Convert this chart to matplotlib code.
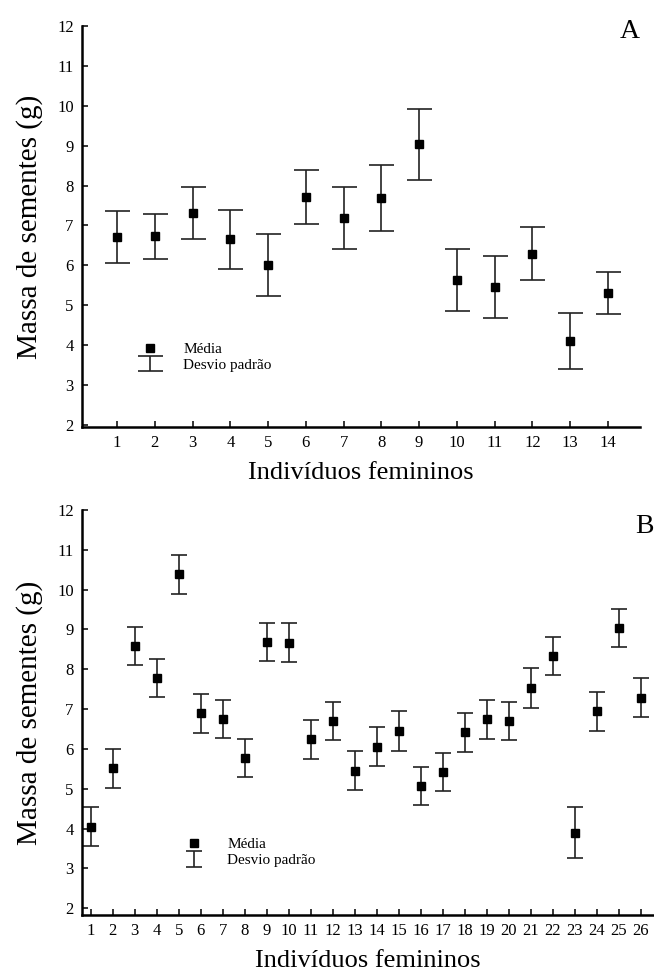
import numpy as np
import matplotlib
matplotlib.use('Agg')
import matplotlib.pyplot as plt
from matplotlib.lines import Line2D

plt.rcParams['font.family'] = ['Liberation Serif', 'DejaVu Serif']

# Panel A - 14 individuals
ind_a = np.arange(1, 15)
mean_a = [6.70, 6.73, 7.31, 6.65, 6.01, 7.72, 7.18, 7.68, 9.03, 5.64, 5.45, 6.29, 4.10, 5.30]
sd_a = [0.65, 0.56, 0.65, 0.73, 0.78, 0.68, 0.78, 0.83, 0.88, 0.78, 0.78, 0.66, 0.70, 0.53]

# Panel B - 26 individuals
ind_b = np.arange(1, 27)
mean_b = [4.05, 5.51, 8.59, 7.79, 10.38, 6.89, 6.75, 5.77, 8.68, 8.67, 6.24, 6.70, 5.45,
          6.05, 6.45, 5.07, 5.43, 6.42, 6.74, 6.70, 7.53, 8.33, 3.90, 6.94, 9.03, 7.29]
sd_b = [0.48, 0.48, 0.48, 0.48, 0.48, 0.48, 0.48, 0.48, 0.48, 0.49, 0.49, 0.48, 0.49,
        0.49, 0.49, 0.48, 0.48, 0.49, 0.49, 0.48, 0.49, 0.48, 0.63, 0.48, 0.48, 0.48]

yticks = np.arange(2, 13)
xlabel = 'Indivíduos femininos'
ylabel = 'Massa de sementes (g)'

fig = plt.figure(figsize=(6.54, 9.76), dpi=100)
ax_a = fig.add_axes([0.1254, 0.5625, 0.853, 0.411])
ax_b = fig.add_axes([0.1254, 0.0625, 0.8746, 0.415])


def panel(ax, x, m, s, xlim, ylim, cap, ms, letter, letter_y, leg_anchor):
    eb = ax.errorbar(x, m, yerr=s, fmt='none', ecolor='#222222', elinewidth=1.2,
                     capsize=cap, capthick=1.2, zorder=2)
    ax.plot(x, m, 's', color='black', markersize=ms, zorder=3)
    ax.set_xlim(*xlim)
    ax.set_ylim(*ylim)
    ax.set_xticks(x)
    ax.set_yticks(yticks)
    for side in ['top', 'right']:
        ax.spines[side].set_visible(False)
    for side in ['left', 'bottom']:
        ax.spines[side].set_linewidth(1.8)
    ax.tick_params(direction='in', length=4, width=1.1, labelsize=12, pad=6)
    ax.set_xlabel(xlabel, fontsize=19, labelpad=8)
    ax.set_ylabel(ylabel, fontsize=21, labelpad=10)
    ax.text(1.0, letter_y, letter, transform=ax.transAxes, fontsize=20,
            ha='right', va='top')
    h_mean = Line2D([], [], marker='s', linestyle='none', color='black', markersize=6)
    ax.legend([h_mean, eb], ['Média', 'Desvio padrão'], loc='upper left',
              bbox_to_anchor=leg_anchor, frameon=False, fontsize=11,
              handlelength=1.6, handletextpad=1.4, labelspacing=0.15)


panel(ax_a, ind_a, mean_a, sd_a, (0.07, 14.85), (1.95, 12), 9, 6, 'A', 1.018, (0.075, 0.245))
panel(ax_b, ind_b, mean_b, sd_b, (0.6, 26.6), (1.83, 12), 5.5, 5.3, 'B', 0.99, (0.15, 0.225))

fig.savefig('out.png', dpi=100)
